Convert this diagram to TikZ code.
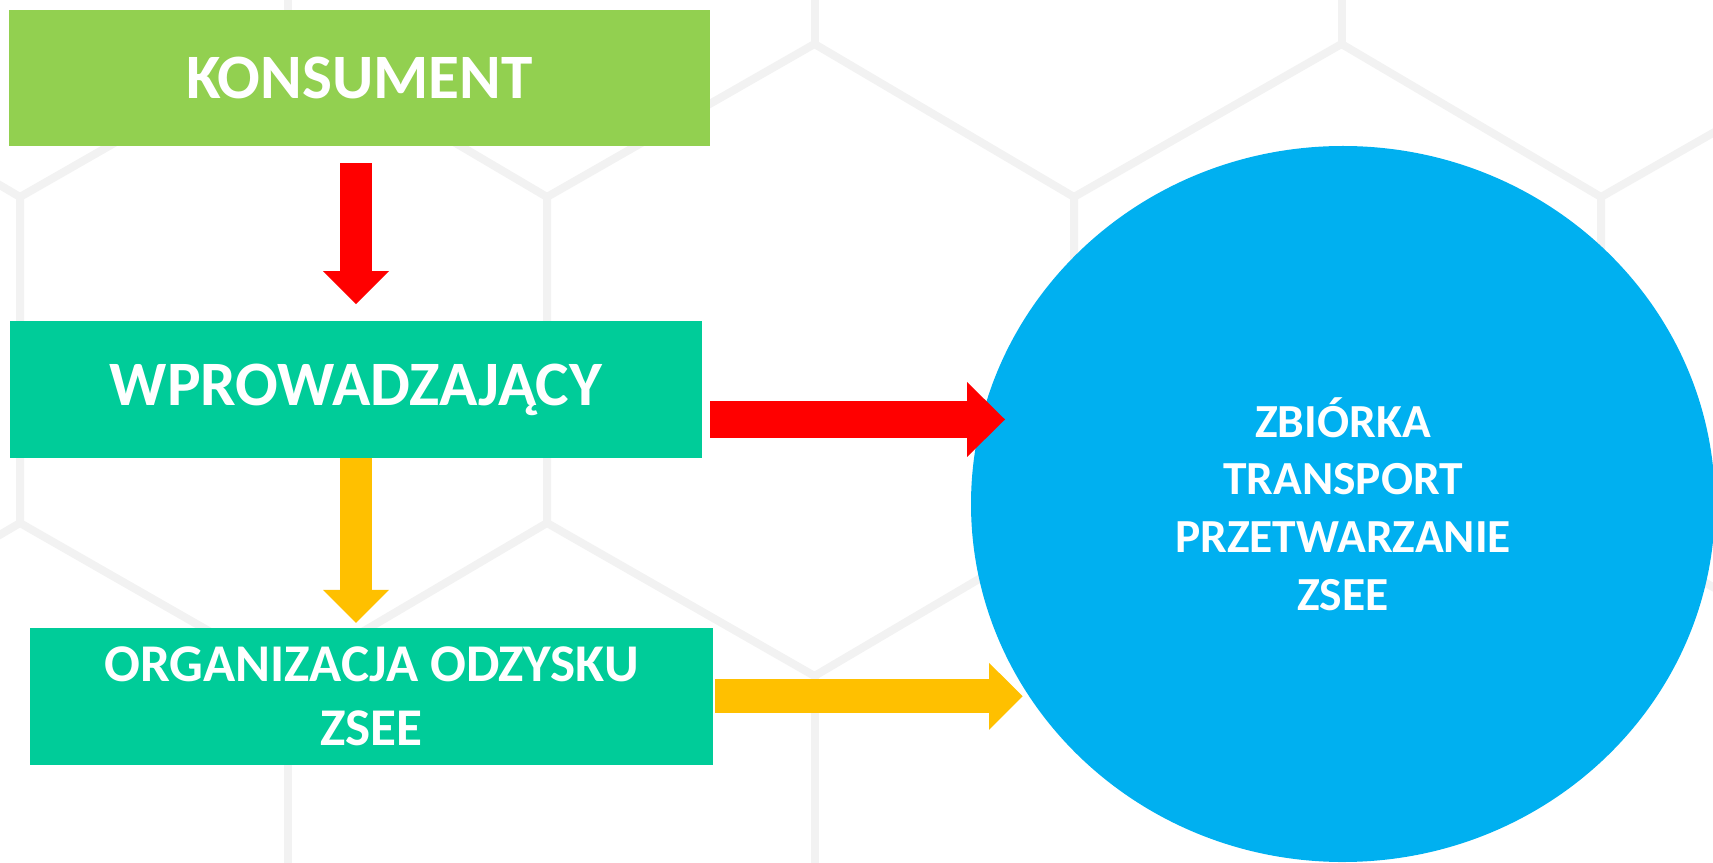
\documentclass[tikz,border=0pt]{standalone}
\usepackage{fontspec}
\setmainfont{Carlito}
\usetikzlibrary{shapes.geometric,arrows.meta,calc}
\definecolor{konsgreen}{HTML}{92D050}
\definecolor{boxteal}{HTML}{00CC99}
\definecolor{circblue}{HTML}{00B0F0}
\definecolor{arrred}{HTML}{FF0000}
\definecolor{arryellow}{HTML}{FFC000}

\begin{document}
\begin{tikzpicture}[x=0.1mm,y=-0.1mm,
  box/.style={rectangle, inner sep=0pt, outer sep=0pt, text=white, align=center},
  hexline/.style={draw=black!5, line width=0.8mm},
  fatarrow/.style args={#1/#2/#3}{line width=#1, -{Triangle[width=#2, length=#3, line width=0pt]}}]
\useasboundingbox (0,0) rectangle (1713,863);
% tlo: plaster miodu
\foreach \k in {-1,...,3}{
\draw[hexline] (20+527*\k,523)--(20+527*\k,197)--(287.5+527*\k,44)--(547+527*\k,197);
\draw[hexline] (20+527*\k,523)--(287.5+527*\k,676)--(547+527*\k,523);
\draw[hexline] (287.5+527*\k,44)--(287.5+527*\k,-20);
\draw[hexline] (287.5+527*\k,676)--(287.5+527*\k,900);
}
\node[box, fill=konsgreen, minimum width=70.13mm, minimum height=13.66mm,
  font=\fontsize{18}{22}\selectfont\bfseries] (kons) at (359.4,78.1) {KONSUMENT};
\node[box, fill=boxteal, minimum width=69.23mm, minimum height=13.67mm,
  font=\fontsize{18}{22}\selectfont\bfseries] (wprow) at (356,389.4) {WPROWADZAJĄCY};
\node[box, fill=boxteal, minimum width=68.3mm, minimum height=13.67mm,
  font=\fontsize{15.1}{18.2}\selectfont\bfseries] (org) at (371.5,696.3) {ORGANIZACJA ODZYSKU\\ZSEE};
\node[ellipse, fill=circblue, outer sep=0pt, minimum width=74.4mm, minimum height=71.6mm,
  text=white, align=center, font=\fontsize{13.5}{16.4}\selectfont\bfseries] (zbior) at (1343,504)
  {ZBIÓRKA\\TRANSPORT\\PRZETWARZANIE\\ZSEE};
% strzalki
\coordinate (redstart) at ($(wprow.east)+(8,30.1)$);
\draw[arrred, fatarrow=3.17mm/6.6mm/3.3mm, shorten <=1.7mm, shorten >=1.7mm]
  (kons.south -| wprow.north) -- (wprow.north);
\draw[arryellow, fatarrow=3.2mm/6.6mm/3.3mm, shorten >=0.5mm]
  (wprow.south) -- (wprow.south |- org.north);
\draw[arrred, fatarrow=3.7mm/7.5mm/3.8mm] (redstart) -- ($(redstart -| zbior.west)+(34,0)$);
\draw[arryellow, fatarrow=3.4mm/6.7mm/3.36mm] ($(org.east)+(1.6,0)$) -- ($(org.east -| zbior.west)+(51.6,0)$);
\end{tikzpicture}
\end{document}
